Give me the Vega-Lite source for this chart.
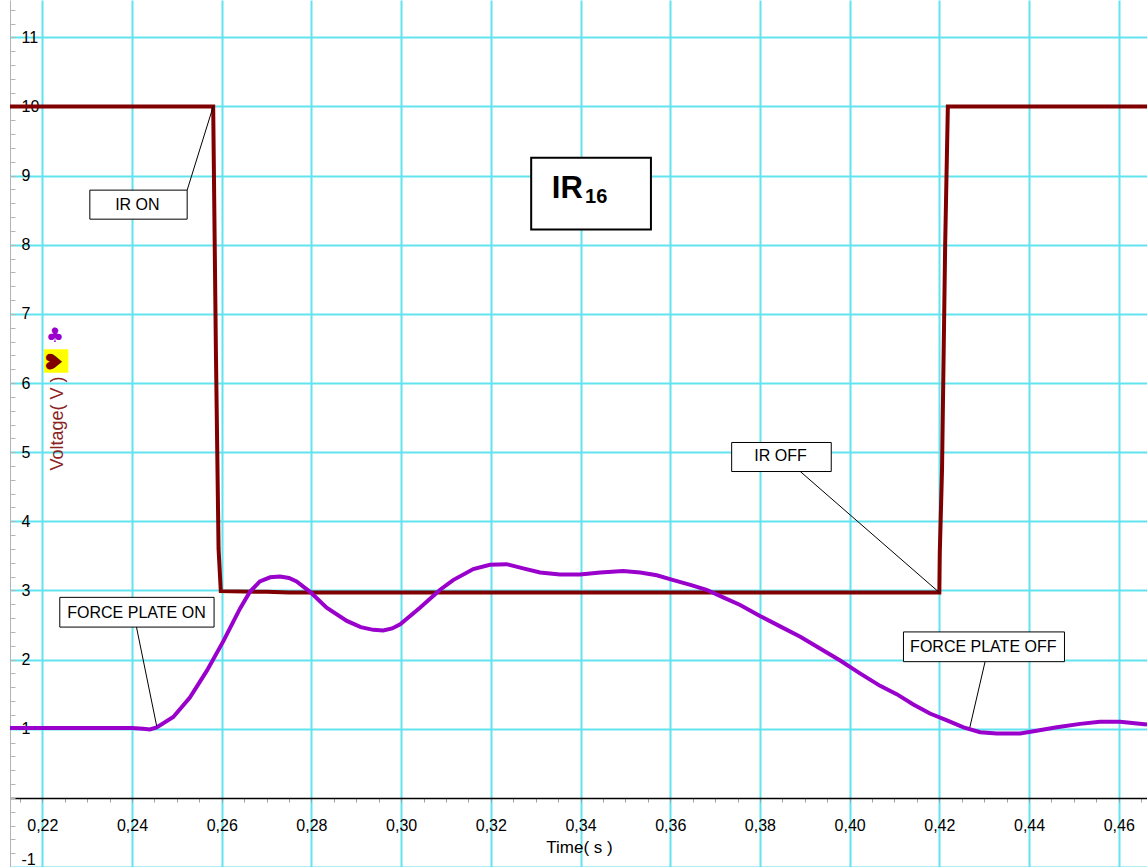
{
  "$schema": "https://vega.github.io/schema/vega-lite/v6.json",
  "width": 1137,
  "height": 867,
  "padding": {"left": 10, "top": 0, "right": 0, "bottom": 0},
  "autosize": {"type": "none"},
  "background": "#ffffff",
  "config": {"view": {"stroke": null}, "font": "Liberation Sans"},
  "layer": [
    {
      "data": {"values": [
        {"t":0.2128,"v":10},{"t":0.2581,"v":10},{"t":0.2587,"v":6.5},{"t":0.2593,"v":3.6},{"t":0.2598,"v":2.99},{"t":0.27,"v":2.98},{"t":0.275,"v":2.97},{"t":0.42,"v":2.97},{"t":0.4201,"v":3.55},{"t":0.4206,"v":4.75},{"t":0.4213,"v":8.0},{"t":0.4219,"v":10},{"t":0.4663,"v":10}
      ]},
      "mark": {"type": "line", "color": "#800000", "strokeWidth": 4, "clip": true},
      "encoding": {
        "x": {"field": "t", "type": "quantitative",
          "scale": {"domain": [0.2128, 0.4663], "nice": false, "zero": false},
          "axis": {
            "orient": "bottom", "offset": -69, "tickCount": 500,
            "values": [0.215,0.22,0.225,0.23,0.235,0.24,0.245,0.25,0.255,0.26,0.265,0.27,0.275,0.28,0.285,0.29,0.295,0.3,0.305,0.31,0.315,0.32,0.325,0.33,0.335,0.34,0.345,0.35,0.355,0.36,0.365,0.37,0.375,0.38,0.385,0.39,0.395,0.4,0.405,0.41,0.415,0.42,0.425,0.43,0.435,0.44,0.445,0.45,0.455,0.46,0.465],
            "labelExpr": "abs(datum.value*50 - round(datum.value*50)) < 0.001 ? replace(format(datum.value, '.2f'), '.', ',') : ''",
            "grid": true, "gridColor": "#62e4ef", "gridWidth": 2,
            "gridOpacity": {"condition": {"test": "abs(datum.value*50 - round(datum.value*50)) < 0.001", "value": 1}, "value": 0},
            "domainColor": "#000000", "domainWidth": 1.5,
            "tickColor": "#a0a0a0", "tickSize": 4, "labelPadding": 15,
            "labelFont": "Liberation Sans", "labelFontSize": 16, "labelColor": "#000000",
            "labelFlush": false, "labelOverlap": false,
            "title": "Time( s )", "titleFont": "Liberation Sans", "titleFontSize": 17, "titleFontWeight": "normal", "titleColor": "#000000",
            "titleY": 49, "titleX": 569, "titleBaseline": "middle", "titleAlign": "center"
          }
        },
        "y": {"field": "v", "type": "quantitative",
          "scale": {"domain": [-1, 11.54], "nice": false, "zero": false},
          "axis": {
            "orient": "left", "tickCount": 500,
            "values": [-1,-0.8,-0.6,-0.4,-0.2,0,0.2,0.4,0.6,0.8,1,1.2,1.4,1.6,1.8,2,2.2,2.4,2.6,2.8,3,3.2,3.4,3.6,3.8,4,4.2,4.4,4.6,4.8,5,5.2,5.4,5.6,5.8,6,6.2,6.4,6.6,6.8,7,7.2,7.4,7.6,7.8,8,8.2,8.4,8.6,8.8,9,9.2,9.4,9.6,9.8,10,10.2,10.4,10.6,10.8,11,11.2,11.4],
            "labelExpr": "abs(datum.value - round(datum.value)) < 0.001 && round(datum.value) != 0 ? '' + round(datum.value) : ''",
            "grid": true, "gridColor": "#62e4ef", "gridWidth": 2,
            "gridOpacity": {"condition": {"test": "abs(datum.value - round(datum.value)) < 0.001 && round(datum.value) != 0", "value": 1}, "value": 0},
            "domainColor": "#b4b4b4", "domainWidth": 1,
            "tickColor": "#b4b4b4", "tickSize": -5, "labelPadding": -6, "labelAlign": "left",
            "labelFont": "Liberation Sans", "labelFontSize": 16, "labelColor": "#000000",
            "labelFlush": true, "labelOverlap": false,
            "title": "Voltage( V )", "titleFont": "Liberation Sans", "titleFontSize": 18, "titleFontWeight": "normal", "titleColor": "#8b2222",
            "titleX": 47, "titleY": 423, "titleAngle": 270, "titleAlign": "center", "titleBaseline": "middle"
          }
        }
      }
    },
    {
      "data": {"values": [
        {"t":0.2128,"v":1.01},{"t":0.22,"v":1.01},{"t":0.23,"v":1.01},{"t":0.24,"v":1.01},{"t":0.2425,"v":1.0},{"t":0.244,"v":0.99},{"t":0.2455,"v":1.02},{"t":0.2492,"v":1.17},{"t":0.2529,"v":1.45},{"t":0.2567,"v":1.84},{"t":0.2604,"v":2.27},{"t":0.2641,"v":2.74},{"t":0.2663,"v":2.98},{"t":0.2685,"v":3.13},{"t":0.2708,"v":3.19},{"t":0.273,"v":3.2},{"t":0.275,"v":3.18},{"t":0.2767,"v":3.13},{"t":0.2797,"v":2.98},{"t":0.2834,"v":2.75},{"t":0.2879,"v":2.56},{"t":0.291,"v":2.47},{"t":0.2938,"v":2.43},{"t":0.296,"v":2.42},{"t":0.298,"v":2.45},{"t":0.2998,"v":2.51},{"t":0.3042,"v":2.75},{"t":0.3087,"v":3.01},{"t":0.3116,"v":3.15},{"t":0.3161,"v":3.31},{"t":0.3198,"v":3.37},{"t":0.3235,"v":3.38},{"t":0.3272,"v":3.32},{"t":0.331,"v":3.26},{"t":0.3354,"v":3.23},{"t":0.3399,"v":3.23},{"t":0.3444,"v":3.26},{"t":0.3495,"v":3.28},{"t":0.3533,"v":3.26},{"t":0.357,"v":3.22},{"t":0.3607,"v":3.15},{"t":0.3645,"v":3.08},{"t":0.3681,"v":3.01},{"t":0.3718,"v":2.9},{"t":0.3756,"v":2.79},{"t":0.38,"v":2.63},{"t":0.3845,"v":2.48},{"t":0.389,"v":2.33},{"t":0.3934,"v":2.16},{"t":0.3978,"v":1.99},{"t":0.4023,"v":1.8},{"t":0.4068,"v":1.62},{"t":0.4105,"v":1.5},{"t":0.4142,"v":1.35},{"t":0.4179,"v":1.22},{"t":0.4217,"v":1.12},{"t":0.4254,"v":1.02},{"t":0.4291,"v":0.95},{"t":0.4328,"v":0.93},{"t":0.438,"v":0.93},{"t":0.4417,"v":0.97},{"t":0.4462,"v":1.02},{"t":0.4514,"v":1.07},{"t":0.4558,"v":1.1},{"t":0.4603,"v":1.1},{"t":0.4663,"v":1.06}
      ]},
      "mark": {"type": "line", "color": "#9900cc", "strokeWidth": 4, "clip": true},
      "encoding": {
        "x": {"field": "t", "type": "quantitative"},
        "y": {"field": "v", "type": "quantitative"}
      }
    },
    {
      "data": {"values": [
        {"label":"IR ON","x1":0.2306,"x2":0.2523,"y1":8.79,"y2":8.37,"cx":0.2412,"cy":8.58,"xa":0.2523,"ya":8.79,"xb":0.2581,"yb":10.0},
        {"label":"FORCE PLATE ON","x1":0.2239,"x2":0.2583,"y1":2.9,"y2":2.47,"cx":0.241,"cy":2.68,"xa":0.241,"ya":2.47,"xb":0.2455,"yb":1.04},
        {"label":"IR OFF","x1":0.3737,"x2":0.3959,"y1":5.14,"y2":4.72,"cx":0.3846,"cy":4.94,"xa":0.389,"ya":4.72,"xb":0.42,"yb":2.97},
        {"label":"FORCE PLATE OFF","x1":0.412,"x2":0.4479,"y1":2.4,"y2":1.97,"cx":0.4298,"cy":2.18,"xa":0.4302,"ya":1.97,"xb":0.4268,"yb":1.02}
      ]},
      "layer": [
        {
          "mark": {"type": "rule", "color": "#000000", "strokeWidth": 1},
          "encoding": {
            "x": {"field": "xa", "type": "quantitative"},
            "y": {"field": "ya", "type": "quantitative"},
            "x2": {"field": "xb"},
            "y2": {"field": "yb"}
          }
        },
        {
          "mark": {"type": "rect", "fill": "#ffffff", "stroke": "#000000", "strokeWidth": 1},
          "encoding": {
            "x": {"field": "x1", "type": "quantitative"},
            "x2": {"field": "x2"},
            "y": {"field": "y1", "type": "quantitative"},
            "y2": {"field": "y2"}
          }
        },
        {
          "mark": {"type": "text", "font": "Liberation Sans", "fontSize": 16, "color": "#000000", "align": "center", "baseline": "middle"},
          "encoding": {
            "x": {"field": "cx", "type": "quantitative"},
            "y": {"field": "cy", "type": "quantitative"},
            "text": {"field": "label"}
          }
        }
      ]
    },
    {
      "data": {"values": [{"x1":0.329,"x2":0.3557,"y1":9.26,"y2":8.22}]},
      "mark": {"type": "rect", "fill": "#ffffff", "stroke": "#000000", "strokeWidth": 2},
      "encoding": {
        "x": {"field": "x1", "type": "quantitative"},
        "x2": {"field": "x2"},
        "y": {"field": "y1", "type": "quantitative"},
        "y2": {"field": "y2"}
      }
    },
    {
      "data": {"values": [{"x":0.3336,"y":8.68,"text":"IR"}]},
      "mark": {"type": "text", "font": "Liberation Sans", "fontSize": 31, "fontWeight": "bold", "color": "#000000", "align": "left", "baseline": "alphabetic"},
      "encoding": {
        "x": {"field": "x", "type": "quantitative"},
        "y": {"field": "y", "type": "quantitative"},
        "text": {"field": "text"}
      }
    },
    {
      "data": {"values": [{"x":0.341,"y":8.6,"text":"16"}]},
      "mark": {"type": "text", "font": "Liberation Sans", "fontSize": 20, "fontWeight": "bold", "color": "#000000", "align": "left", "baseline": "alphabetic"},
      "encoding": {
        "x": {"field": "x", "type": "quantitative"},
        "y": {"field": "y", "type": "quantitative"},
        "text": {"field": "text"}
      }
    },
    {
      "data": {"values": [{"x1":0.2204,"x2":0.2258,"y1":6.49,"y2":6.15}]},
      "mark": {"type": "rect", "fill": "#ffff00"},
      "encoding": {
        "x": {"field": "x1", "type": "quantitative"},
        "x2": {"field": "x2"},
        "y": {"field": "y1", "type": "quantitative"},
        "y2": {"field": "y2"}
      }
    },
    {
      "data": {"values": [{"x":0.2228,"y":6.68,"sym":"♣"}]},
      "mark": {"type": "text", "font": "DejaVu Sans", "fontSize": 20, "color": "#9900cc", "align": "center", "baseline": "middle"},
      "encoding": {
        "x": {"field": "x", "type": "quantitative"},
        "y": {"field": "y", "type": "quantitative"},
        "text": {"field": "sym"}
      }
    },
    {
      "data": {"values": [{"x":0.2229,"y":6.31,"sym":"♥"}]},
      "mark": {"type": "text", "font": "DejaVu Sans", "fontSize": 22, "color": "#800000", "align": "center", "baseline": "middle", "angle": 270},
      "encoding": {
        "x": {"field": "x", "type": "quantitative"},
        "y": {"field": "y", "type": "quantitative"},
        "text": {"field": "sym"}
      }
    }
  ]
}
